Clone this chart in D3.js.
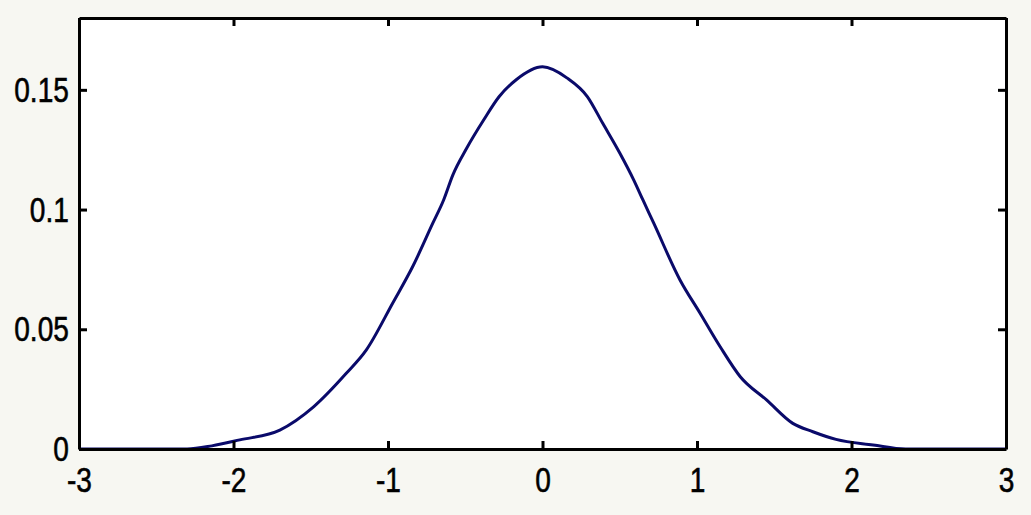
<!DOCTYPE html>
<html>
<head>
<meta charset="utf-8">
<script src="https://cdn.jsdelivr.net/npm/d3@7"></script>
<style>
  body { margin: 0; background: #f7f7f2; }
  .axis text { font-family: "Liberation Sans", Arial, sans-serif; font-size: 36px; fill: #000; stroke: #000; stroke-width: 0.6; }
  .axis path, .axis line { stroke: #000; stroke-width: 3; }
</style>
</head>
<body>
<div id="chart"></div>
<script>
// curve values
const xValues = [-3, -2.3, -2.14, -1.96, -1.7, -1.48, -1.27, -1.14, -0.97, -0.84, -0.71, -0.64, -0.58, -0.49, -0.38, -0.28, -0.17, 0, 0.16, 0.29, 0.39, 0.5, 0.59, 0.65, 0.72, 0.89, 1.02, 1.15, 1.28, 1.45, 1.62, 1.75, 1.9, 2.14, 2.35, 3];
const yValues = [0, 0, 0.0013, 0.0038, 0.0079, 0.0177, 0.0316, 0.0414, 0.0609, 0.0762, 0.0943, 0.104, 0.1145, 0.1257, 0.1375, 0.1472, 0.1542, 0.1596, 0.1549, 0.1472, 0.136, 0.1236, 0.1124, 0.104, 0.0943, 0.0706, 0.0567, 0.0427, 0.0302, 0.0205, 0.0107, 0.0072, 0.004, 0.0017, 0, 0];

const xTicks = [-3, -2, -1, 0, 1, 2, 3];
const xLabels = ["-3", "-2", "-1", "0", "1", "2", "3"];
const yTicks = [0, 0.05, 0.1, 0.15];
const yLabels = ["0", "0.05", "0.1", "0.15"];

function drawChart() {
  const width = 1031;
  const height = 515;
  const marginLeft = 79;
  const marginRight = 25;
  const marginTop = 18;
  const marginBottom = 66;
  const chartWidth = width - marginLeft - marginRight;
  const chartHeight = height - marginTop - marginBottom;

  const xScale = d3.scaleLinear().domain([-3, 3]).range([0, chartWidth]);
  const yScale = d3.scaleLinear().domain([0, 0.18]).range([chartHeight, 0]);

  const svg = d3.select("#chart")
    .append("svg")
    .attr("width", width)
    .attr("height", height);

  const g = svg.append("g")
    .attr("transform", `translate(${marginLeft}, ${marginTop})`);

  // white plot area
  g.append("rect")
    .attr("width", chartWidth)
    .attr("height", chartHeight)
    .attr("fill", "#fff");

  // curve
  const points = xValues.map((x, i) => [x, yValues[i]]);
  const line = d3.line()
    .x((d) => xScale(d[0]))
    .y((d) => yScale(d[1]))
    .curve(d3.curveMonotoneX);

  g.append("path")
    .datum(points)
    .attr("d", line)
    .attr("fill", "none")
    .attr("stroke", "#0a0a6a")
    .attr("stroke-width", 3);

  // axes (box with inward ticks)
  const xAxis = d3.axisBottom(xScale).tickValues(xTicks).tickFormat((d, i) => xLabels[i])
    .tickSizeInner(-8).tickSizeOuter(0).tickPadding(17);
  const yAxis = d3.axisLeft(yScale).tickValues(yTicks).tickFormat((d, i) => yLabels[i])
    .tickSizeInner(-8).tickSizeOuter(0).tickPadding(13);
  const xTop = d3.axisTop(xScale).tickValues(xTicks).tickFormat("")
    .tickSizeInner(-8).tickSizeOuter(0);
  const yRight = d3.axisRight(yScale).tickValues(yTicks).tickFormat("")
    .tickSizeInner(-8).tickSizeOuter(0);

  g.append("g").attr("class", "axis")
    .attr("transform", `translate(0, ${chartHeight})`)
    .call(xAxis);
  g.append("g").attr("class", "axis").call(yAxis);
  g.append("g").attr("class", "axis").call(xTop);
  g.append("g").attr("class", "axis")
    .attr("transform", `translate(${chartWidth}, 0)`)
    .call(yRight);

  // narrow the labels like the original
  g.selectAll(".axis text").attr("transform", "scale(0.78,1)");
}

drawChart();
</script>
</body>
</html>
